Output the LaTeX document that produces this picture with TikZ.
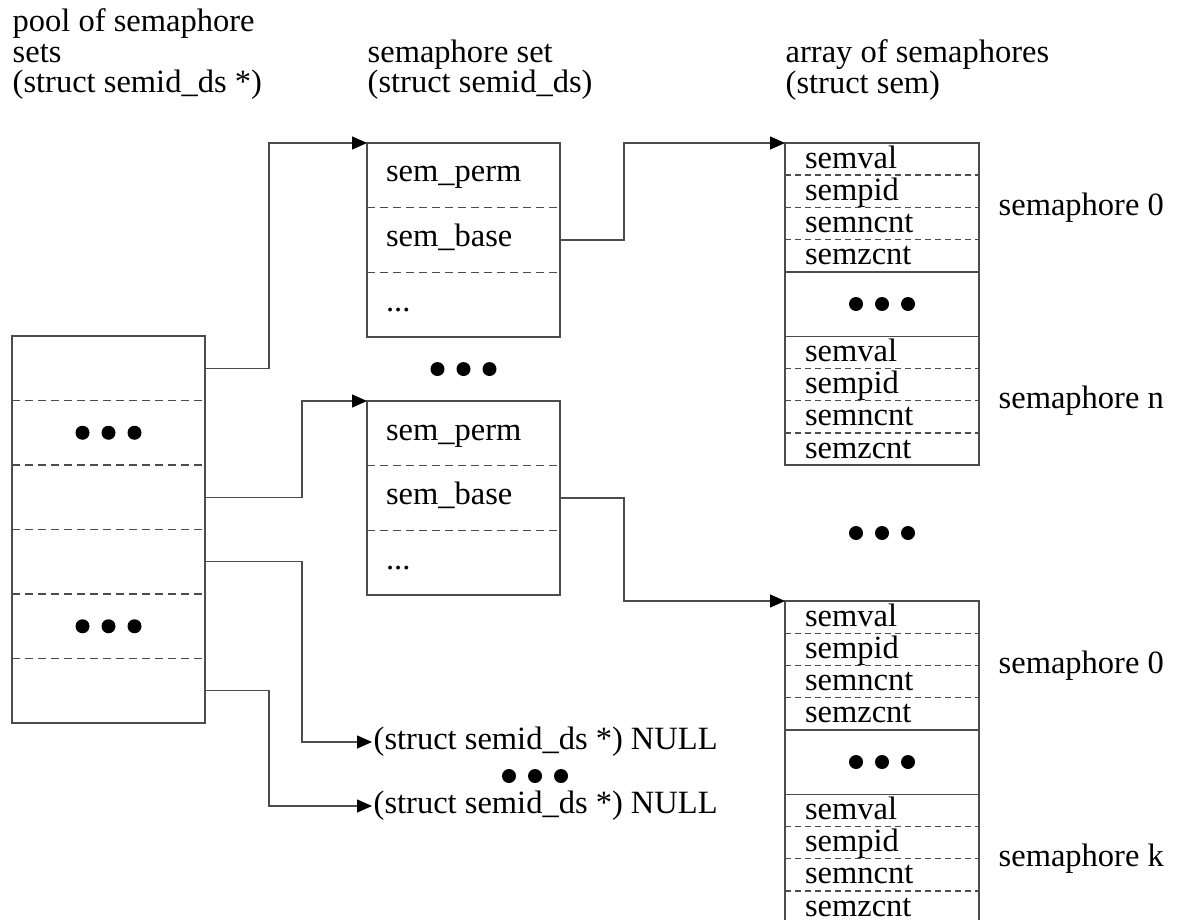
\documentclass[tikz,border=0pt]{standalone}
\usepackage{fontspec}
\setmainfont{Liberation Serif}
\usepackage{tikz}
\usetikzlibrary{arrows.meta, calc}
\newcommand\lineColor{black!70}
\newcommand\boxW{193pt}
\newcommand\poolH{64.5}
\newcommand\setH{64.7pt}
\newcommand\semH{32.2pt}
\newcommand\gapH{64.4pt}
\newcommand{\threeDots}[1]{
    \foreach \k in {-1,0,1}
        \fill ([xshift=\k*26pt]#1) circle (7pt);
}
\tikzset{
    poolRow/.style={minimum width=\boxW, minimum height=\poolH pt, inner sep=0pt, outer sep=0pt},
    setRow/.style={minimum width=\boxW, inner xsep=19pt, inner ysep=0pt, outer sep=0pt,
        text width=155pt, align=left, text height=39pt, text depth=25.7pt},
    semRow/.style={minimum width=194pt, inner xsep=20pt, inner ysep=0pt, outer sep=0pt,
        text width=154pt, align=left, text height=25.2pt, text depth=7pt},
    gapRow/.style={minimum width=194pt, minimum height=\gapH, inner sep=0pt, outer sep=0pt},
    boxLine/.style={draw=\lineColor},
    poolDash/.style={draw=\lineColor, dash pattern=on 8pt off 5pt},
    semDash/.style={draw=\lineColor, dash pattern=on 6pt off 4pt},
    link/.style={draw=\lineColor, -{Triangle[length=15pt, width=13pt, color=black]}},
    heading/.style={anchor=north west, align=left, inner sep=0pt,
        font=\fontsize{32.5}{30.5}\selectfont},
}

\begin{document}
\begin{tikzpicture}[x=1pt, y=-1pt, font=\fontsize{32.5}{34}\selectfont, line width=1.4pt]
    \useasboundingbox (0,0) rectangle (1178,920);

    % headings
    \node[heading] (poolTitle) at (12, 8) {pool of semaphore\\sets\\(struct semid\_ds *)};
    \node[heading] (setTitle) at (367, 39) {semaphore set\\(struct semid\_ds)};
    \node[heading] (arrayTitle) at (785, 39) {array of semaphores\\(struct sem)};

    % pool of semaphore sets
    \foreach \i in {1,...,6}
        \node[poolRow, anchor=north west] (p\i) at (12, {336 + (\i - 1) * \poolH}) {};
    \draw[boxLine] (p1.north west) rectangle (p6.south east);
    \foreach \i in {1,...,5}
        \draw[poolDash] (p\i.south west) -- (p\i.south east);
    \threeDots{p2}
    \threeDots{p5}

    % semaphore sets
    \foreach \sn/\top in {s/143, t/401} {
        \node[setRow, anchor=north west] (\sn1) at (367, \top) {sem\_perm};
        \node[setRow, anchor=north west] (\sn2) at (\sn1.south west) {sem\_base};
        \node[setRow, anchor=north west] (\sn3) at (\sn2.south west) {...};
        \draw[boxLine] (\sn1.north west) rectangle (\sn3.south east);
        \draw[poolDash] (\sn1.south west) -- (\sn1.south east);
        \draw[poolDash] (\sn2.south west) -- (\sn2.south east);
    }
    \coordinate (setDots) at ($(s3.south)!0.5!(t1.north)$);
    \threeDots{setDots}

    % arrays of semaphores
    \foreach \an/\top in {a/143, b/601} {
        \node[semRow, anchor=north west] (\an1) at (785, \top) {semval};
        \node[semRow, anchor=north west] (\an2) at (\an1.south west) {sempid};
        \node[semRow, anchor=north west] (\an3) at (\an2.south west) {semncnt};
        \node[semRow, anchor=north west] (\an4) at (\an3.south west) {semzcnt};
        \node[gapRow, anchor=north west] (\an g) at (\an4.south west) {};
        \node[semRow, anchor=north west] (\an5) at (\an g.south west) {semval};
        \node[semRow, anchor=north west] (\an6) at (\an5.south west) {sempid};
        \node[semRow, anchor=north west] (\an7) at (\an6.south west) {semncnt};
        \node[semRow, anchor=north west] (\an8) at (\an7.south west) {semzcnt};
        \draw[boxLine] (\an1.north west) rectangle (\an8.south east);
        \foreach \i in {1,2,3,5,6,7}
            \draw[semDash] (\an\i.south west) -- (\an\i.south east);
        \draw[boxLine] (\an4.south west) -- (\an4.south east);
        \draw[boxLine] (\an g.south west) -- (\an g.south east);
        \threeDots{\an g}
    }
    \coordinate (arrayDots) at ($(a8.south)!0.5!(b1.north)$);
    \threeDots{arrayDots}

    \node[anchor=west, inner sep=0pt] (semA0) at ([xshift=19pt]a2.south east) {semaphore 0};
    \node[anchor=west, inner sep=0pt] (semAn) at ([xshift=19pt]a6.south east) {semaphore n};
    \node[anchor=west, inner sep=0pt] (semB0) at ([xshift=19pt]b2.south east) {semaphore 0};
    \node[anchor=west, inner sep=0pt] (semBk) at ([xshift=19pt]b6.south east) {semaphore k};

    % null pointers
    \node[anchor=west, inner sep=1pt] (null1) at (372, 742) {(struct semid\_ds *) NULL};
    \node[anchor=west, inner sep=1pt] (null2) at (372, 806) {(struct semid\_ds *) NULL};
    \coordinate (nullDots) at (535, 776);
    \threeDots{nullDots}

    % pointers
    \draw[link] (p1.east) -- ++(64,0) |- (s1.north west);
    \draw[link] (p3.east) -- ++(97,0) |- (t1.north west);
    \draw[link] (p4.east) -- ++(97,0) |- (null1.west);
    \draw[link] (p6.east) -- ++(64,0) |- (null2.west);
    \draw[link] (s2.east) -- ++(64,0) |- (a1.north west);
    \draw[link] (t2.east) -- ++(64,0) |- (b1.north west);
\end{tikzpicture}
\end{document}
